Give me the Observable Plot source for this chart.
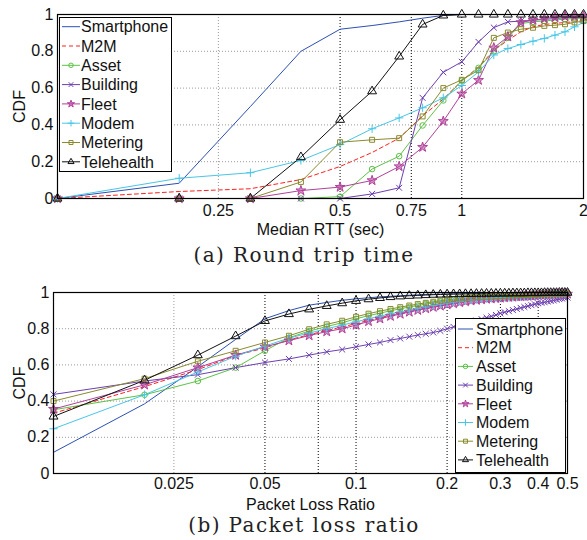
<!DOCTYPE html>
<html><head><meta charset="utf-8">
<script src="https://cdn.jsdelivr.net/npm/d3@7"></script>
<script src="https://cdn.jsdelivr.net/npm/@observablehq/plot@0.6"></script>
<style>
body{margin:0;background:#fff;width:587px;height:540px;position:relative;overflow:hidden;font-family:"Liberation Sans",Arial,sans-serif;}
#top{position:absolute;left:0;top:0}
#bot{position:absolute;left:0;top:280px}
.cap{position:absolute;left:0;width:608px;text-align:center;font-family:"DejaVu Serif",serif;font-size:20px;letter-spacing:1.4px;color:#222;line-height:24px;}
.leg{position:absolute;}
</style></head><body>
<div id="top"></div>
<div class="cap" style="top:243px">(a) Round trip time</div>
<div id="bot"></div>
<div class="cap" style="top:513px">(b) Packet loss ratio</div>
<script>
// ---------- shared series ----------
const seriesNames = ["Smartphone","M2M","Asset","Building","Fleet","Modem","Metering","Telehealth"];
const seriesColors = ["#2d4fb3","#ff2020","#5cc246","#6c3fb0","#b2409a","#48c6e6","#8a8a2e","#111111"];
const seriesSymbols = [null,null,"circle","times","star","plus","square","triangle"];
const seriesDash = [null,"4,3",null,null,null,null,null,null];

// ---------- (a) Round trip time ----------
const rttX = [0.1,0.2,0.3,0.4,0.5,0.6,0.7,0.8,0.9,1.0,1.1,1.2,1.3,1.4,1.5,1.6,1.7,1.8,1.9,2.0];
const rttSmartphone = [0,0.083,0.50,0.80,0.92,0.94,0.96,0.98,0.995,1,1,1,1,1,1,1,1,1,1,1];
const rttM2M        = [0,0.038,0.053,0.103,0.174,0.25,0.328,0.45,0.54,0.64,0.714,0.806,0.86,0.906,0.933,0.946,0.951,0.957,0.96,0.969];
const rttAsset      = [0,0,0,0,0.01,0.16,0.23,0.397,0.533,0.64,0.71,0.80,0.873,0.951,0.96,0.965,0.97,0.975,0.978,0.98];
const rttBuilding   = [0,0,0,0,0,0.025,0.058,0.547,0.686,0.743,0.851,0.929,0.96,0.964,0.969,0.973,0.978,0.982,0.984,0.987];
const rttFleet      = [0,0,0,0.043,0.062,0.098,0.174,0.279,0.42,0.569,0.643,0.819,0.879,0.957,0.969,0.978,0.985,0.99,0.99,0.99];
const rttModem      = [0,0.11,0.14,0.207,0.293,0.379,0.438,0.493,0.547,0.614,0.688,0.78,0.815,0.837,0.855,0.87,0.888,0.906,0.933,0.957];
const rttMetering   = [0,0,0,0.09,0.306,0.319,0.328,0.446,0.60,0.645,0.697,0.873,0.902,0.92,0.928,0.938,0.942,0.947,0.957,0.964];
const rttTelehealth = [0,0,0,0.225,0.428,0.583,0.772,0.946,0.995,1,1,1,1,1,1,1,1,1,1,1];
const rttXTicks = [0.25,0.5,0.75,1,2];
const rttXGridGray = [0.25];
const rttXGridBlack = [0.5,0.75,1];

// ---------- (b) Packet loss ratio ----------
const plrX = [0.01,0.02,0.03,0.04,0.05,0.06,0.07,0.08,0.09,0.10,
              0.11,0.12,0.13,0.14,0.15,0.16,0.17,0.18,0.19,0.20,
              0.21,0.22,0.23,0.24,0.25,0.26,0.27,0.28,0.29,0.30,
              0.31,0.32,0.33,0.34,0.35,0.36,0.37,0.38,0.39,0.40,
              0.41,0.42,0.43,0.44,0.45,0.46,0.47,0.48,0.49,0.50];
const plrSmartphone = [0.117,0.385,0.590,0.741,0.855,0.900,0.930,0.945,0.957,0.965,
                       0.971,0.976,0.979,0.982,0.985,0.987,0.989,0.990,0.991,0.992,
                       0.993,0.993,0.994,0.994,0.995,0.995,0.995,0.996,0.996,0.996,
                       0.997,0.997,0.997,0.997,0.998,0.998,0.998,0.998,0.998,0.998,
                       0.999,0.999,0.999,0.999,0.999,0.999,0.999,0.999,0.999,1.000];
const plrM2M = [0.333,0.480,0.574,0.652,0.694,0.738,0.767,0.790,0.810,0.828,
                0.846,0.861,0.874,0.886,0.897,0.906,0.915,0.923,0.931,0.938,
                0.944,0.949,0.953,0.957,0.960,0.963,0.965,0.967,0.969,0.971,
                0.973,0.975,0.976,0.977,0.978,0.979,0.980,0.981,0.982,0.984,
                0.985,0.986,0.987,0.987,0.988,0.989,0.990,0.990,0.991,0.992];
const plrAsset = [0.352,0.435,0.511,0.585,0.678,0.750,0.787,0.812,0.833,0.855,
                  0.872,0.886,0.899,0.910,0.920,0.928,0.936,0.943,0.949,0.955,
                  0.959,0.962,0.965,0.968,0.970,0.972,0.974,0.975,0.977,0.978,
                  0.979,0.980,0.981,0.982,0.983,0.984,0.985,0.986,0.987,0.988,
                  0.988,0.989,0.990,0.990,0.991,0.992,0.992,0.993,0.993,0.994];
const plrBuilding = [0.437,0.511,0.546,0.585,0.613,0.633,0.654,0.672,0.685,0.700,
                     0.713,0.724,0.737,0.746,0.756,0.765,0.772,0.779,0.788,0.800,
                     0.810,0.818,0.827,0.836,0.845,0.853,0.861,0.868,0.876,0.885,
                     0.891,0.897,0.903,0.909,0.915,0.920,0.925,0.930,0.935,0.940,
                     0.943,0.946,0.950,0.953,0.956,0.960,0.963,0.966,0.969,0.972];
const plrFleet = [0.356,0.490,0.585,0.654,0.700,0.734,0.762,0.784,0.800,0.820,
                  0.840,0.855,0.869,0.881,0.892,0.902,0.911,0.919,0.926,0.933,
                  0.939,0.945,0.950,0.954,0.958,0.961,0.964,0.966,0.968,0.970,
                  0.972,0.974,0.975,0.977,0.978,0.979,0.980,0.981,0.982,0.984,
                  0.985,0.986,0.987,0.987,0.988,0.989,0.990,0.990,0.991,0.992];
const plrModem = [0.247,0.435,0.561,0.648,0.704,0.748,0.776,0.800,0.820,0.838,
                  0.855,0.869,0.882,0.893,0.903,0.912,0.920,0.928,0.935,0.942,
                  0.947,0.951,0.955,0.958,0.961,0.964,0.966,0.968,0.970,0.972,
                  0.974,0.975,0.977,0.978,0.979,0.980,0.981,0.982,0.983,0.985,
                  0.986,0.987,0.987,0.988,0.989,0.990,0.990,0.991,0.991,0.992];
const plrMetering = [0.400,0.524,0.620,0.678,0.724,0.761,0.797,0.824,0.844,0.866,
                     0.883,0.897,0.909,0.919,0.928,0.936,0.943,0.949,0.955,0.960,
                     0.964,0.967,0.970,0.972,0.974,0.976,0.977,0.978,0.980,0.981,
                     0.982,0.983,0.984,0.985,0.986,0.987,0.987,0.988,0.989,0.990,
                     0.990,0.991,0.991,0.992,0.992,0.993,0.993,0.994,0.994,0.995];
const plrTelehealth = [0.315,0.515,0.654,0.759,0.843,0.881,0.907,0.926,0.941,0.954,
                       0.963,0.970,0.975,0.979,0.982,0.984,0.986,0.988,0.989,0.990,
                       0.991,0.991,0.992,0.992,0.993,0.993,0.994,0.994,0.994,0.995,
                       0.995,0.995,0.996,0.996,0.996,0.996,0.997,0.997,0.997,0.997,
                       0.997,0.998,0.998,0.998,0.998,0.998,0.999,0.999,0.999,0.999];
const plrXTicks = [0.025,0.05,0.075,0.1,0.2,0.3,0.4,0.5];
const plrXGridGray = [0.025];
const plrXGridBlack = [0.05,0.075,0.1,0.2,0.3,0.4];

const yTicks = [0,0.2,0.4,0.6,0.8,1];
const yGrid = [0.2,0.4,0.6,0.8];

// ---------- helpers ----------
function longRows(xs, cols) {
  const rows = [];
  cols.forEach((vals, i) => vals.forEach((v, j) => rows.push({series: seriesNames[i], idx: i, x: xs[j], y: v})));
  return rows;
}
function seriesMarks(rows) {
  const marks = [];
  seriesNames.forEach((name, i) => {
    const d = rows.filter(r => r.idx === i);
    marks.push(Plot.line(d, {x: "x", y: "y", stroke: seriesColors[i], strokeWidth: 1, strokeDasharray: seriesDash[i] || undefined}));
  });
  seriesNames.forEach((name, i) => {
    const sym = seriesSymbols[i];
    if (!sym) return;
    const d = rows.filter(r => r.idx === i);
    const filled = sym === "star";
    marks.push(Plot.dot(d, {x: "x", y: "y", symbol: () => sym, stroke: seriesColors[i], strokeWidth: 1,
      fill: filled ? seriesColors[i] : "none", fillOpacity: filled ? 0.55 : 1,
      r: sym === "triangle" ? 3.3 : sym === "star" ? 3.1 : 2.8}));
  });
  return marks;
}
function legend(left, top, w, h, rowStart, rowStep, x1, x2, tx) {
  const svg = d3.select("body").append("svg").attr("class", "leg")
    .style("left", left + "px").style("top", top + "px")
    .attr("width", w).attr("height", h);
  svg.append("rect").attr("x", 0.5).attr("y", 0.5).attr("width", w - 1).attr("height", h - 1)
    .attr("fill", "white").attr("stroke", "black").attr("stroke-width", 1);
  const map = {circle: d3.symbolCircle, times: d3.symbolTimes, star: d3.symbolStar, plus: d3.symbolPlus, square: d3.symbolSquare, triangle: d3.symbolTriangle};
  seriesNames.forEach((name, i) => {
    const y = rowStart + i * rowStep;
    svg.append("line").attr("x1", x1).attr("x2", x2).attr("y1", y).attr("y2", y)
      .attr("stroke", seriesColors[i]).attr("stroke-width", 1)
      .attr("stroke-dasharray", seriesDash[i] || null);
    const sym = seriesSymbols[i];
    if (sym) {
      const filled = sym === "star";
      svg.append("path").attr("d", d3.symbol(map[sym], 16)())
        .attr("transform", `translate(${(x1 + x2) / 2},${y})`)
        .attr("fill", filled ? seriesColors[i] : "none").attr("fill-opacity", 0.55)
        .attr("stroke", seriesColors[i]).attr("stroke-width", 1);
    }
    svg.append("text").attr("x", tx).attr("y", y).attr("dy", "0.36em")
      .attr("font-family", "Liberation Sans, Arial, sans-serif").attr("font-size", 16)
      .attr("fill", "#111").text(name);
  });
}
const fmt = d => String(d);

// ---------- plot (a) ----------
const rttRows = longRows(rttX, [rttSmartphone, rttM2M, rttAsset, rttBuilding, rttFleet, rttModem, rttMetering, rttTelehealth]);
const plotA = Plot.plot({
  width: 587, height: 240,
  marginLeft: 57, marginRight: 4, marginTop: 14, marginBottom: 42,
  style: {fontFamily: "Liberation Sans, Arial, sans-serif", fontSize: "16px", color: "#111", background: "white"},
  x: {type: "log", domain: [0.1, 2]},
  y: {domain: [0, 1]},
  marks: [
    Plot.gridY(yGrid, {stroke: "#9a9a9a", strokeOpacity: 1, strokeDasharray: "1,2"}),
    Plot.gridX(rttXGridGray, {stroke: "#9a9a9a", strokeOpacity: 1, strokeDasharray: "1,2"}),
    Plot.gridX(rttXGridBlack, {stroke: "#000", strokeOpacity: 1, strokeDasharray: "1,2"}),
    ...seriesMarks(rttRows),
    Plot.frame({stroke: "black", strokeWidth: 1.2}),
    Plot.axisX({ticks: rttXTicks, tickFormat: fmt, tickSize: 0, tickPadding: 6, label: "Median RTT (sec)", labelAnchor: "center", labelArrow: "none", labelOffset: 36, fontSize: 16}),
    Plot.axisY({ticks: yTicks, tickFormat: fmt, tickSize: 0, tickPadding: 4, label: "CDF", labelAnchor: "center", labelOffset: 44, labelArrow: "none", fontSize: 16})
  ]
});
document.getElementById("top").appendChild(plotA);

// ---------- plot (b) ----------
const plrRows = longRows(plrX, [plrSmartphone, plrM2M, plrAsset, plrBuilding, plrFleet, plrModem, plrMetering, plrTelehealth]);
const plotB = Plot.plot({
  width: 587, height: 232,
  marginLeft: 53, marginRight: 20, marginTop: 12, marginBottom: 39,
  style: {fontFamily: "Liberation Sans, Arial, sans-serif", fontSize: "16px", color: "#111", background: "white"},
  x: {type: "log", domain: [0.01, 0.5]},
  y: {domain: [0, 1]},
  marks: [
    Plot.gridY(yGrid, {stroke: "#9a9a9a", strokeOpacity: 1, strokeDasharray: "1,2"}),
    Plot.gridX(plrXGridGray, {stroke: "#9a9a9a", strokeOpacity: 1, strokeDasharray: "1,2"}),
    Plot.gridX(plrXGridBlack, {stroke: "#000", strokeOpacity: 1, strokeDasharray: "1,2"}),
    ...seriesMarks(plrRows),
    Plot.frame({stroke: "black", strokeWidth: 1.2}),
    Plot.axisX({ticks: plrXTicks, tickFormat: fmt, tickSize: 0, tickPadding: 4, label: "Packet Loss Ratio", labelAnchor: "center", labelArrow: "none", labelOffset: 36, fontSize: 16}),
    Plot.axisY({ticks: yTicks, tickFormat: fmt, tickSize: 0, tickPadding: 4, label: "CDF", labelAnchor: "center", labelOffset: 40, labelArrow: "none", fontSize: 16})
  ]
});
document.getElementById("bot").appendChild(plotB);

// ---------- legends ----------
legend(59, 17, 113, 155, 9.7, 19.3, 3, 21, 22);
legend(455, 318, 111, 155, 11, 18.7, 3, 18, 21);
</script>
</body></html>
